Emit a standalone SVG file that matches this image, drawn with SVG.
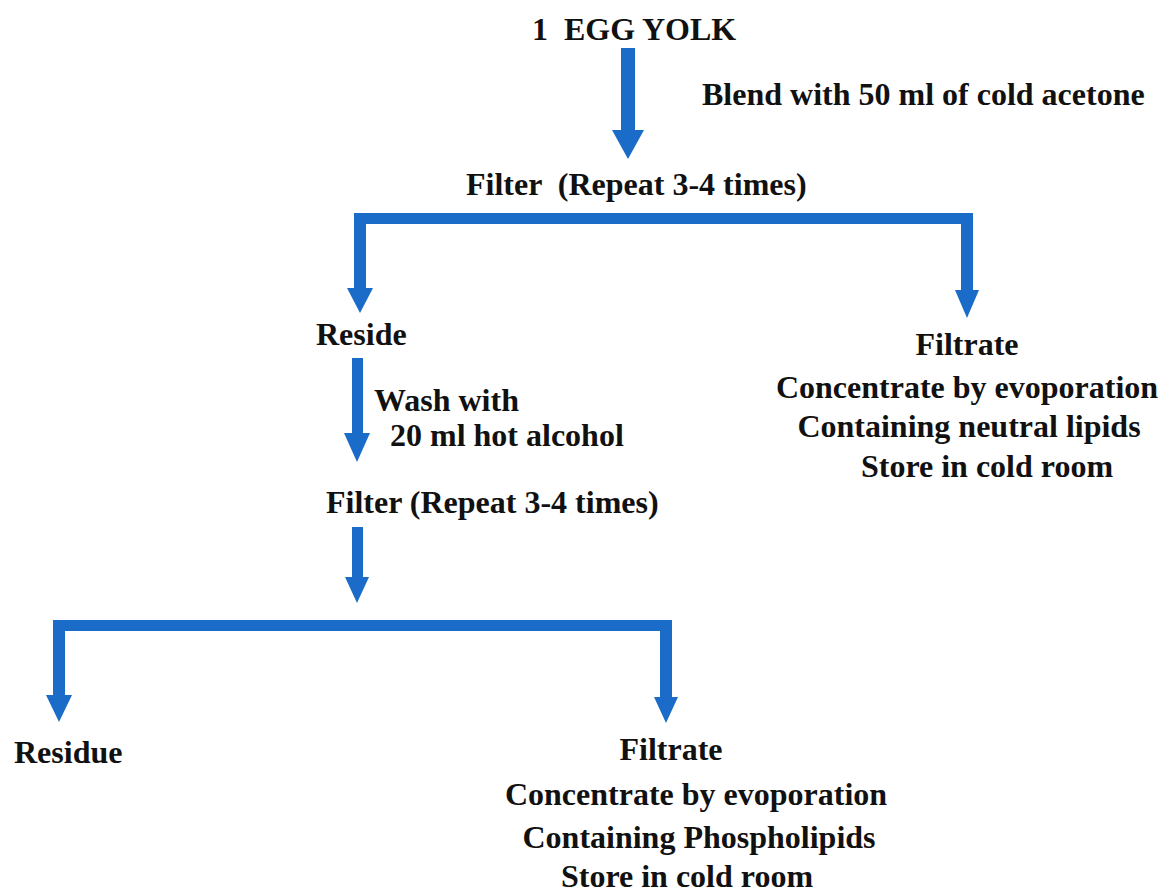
<svg xmlns="http://www.w3.org/2000/svg" width="1172" height="894" viewBox="0 0 1172 894">
<style>
  .t { font-family: "Liberation Serif", "Times New Roman", "DejaVu Serif", serif; font-weight: bold; font-size: 32px; fill: #111; }
  .a { fill: #1a6cc8; }
</style>
<rect width="1172" height="894" fill="#fff"/>
<g id="connectors">
  <path class="a" d="M621,48 H635 V130 H644 L628,159 L612,130 H621 Z"/>
  <path class="a" d="M354,213 H973 V290 H979 L967,318 L955,290 H961 V224 H366 V288 H373 L360,313 L347,288 H354 Z"/>
  <path class="a" d="M352,358 H363 V433 H370 L357,462 L344,433 H352 Z"/>
  <path class="a" d="M352,527 H363 V577 H369 L357,603 L345,577 H352 Z"/>
  <path class="a" d="M53,620 H672 V697 H678 L666,723 L654,697 H660 V631 H65 V695 H72 L59,722 L46,695 H53 Z"/>
</g>
<g id="n-eggyolk"><text class="t" x="532" y="40" xml:space="preserve">1  EGG YOLK</text></g>
<g id="l-blend"><text class="t" x="702" y="105">Blend with 50 ml of cold acetone</text></g>
<g id="n-filter1"><text class="t" x="466" y="195" xml:space="preserve">Filter  (Repeat 3-4 times)</text></g>
<g id="n-reside"><text class="t" x="316" y="345">Reside</text></g>
<g id="n-filtrate1">
  <text class="t" x="967" y="355" text-anchor="middle">Filtrate</text>
  <text class="t" x="967" y="398" text-anchor="middle">Concentrate by evoporation</text>
  <text class="t" x="969" y="437" text-anchor="middle">Containing neutral lipids</text>
  <text class="t" x="987" y="477" text-anchor="middle">Store in cold room</text>
</g>
<g id="l-wash">
  <text class="t" x="374" y="411">Wash with</text>
  <text class="t" x="390" y="446">20 ml hot alcohol</text>
</g>
<g id="n-filter2"><text class="t" x="326" y="513">Filter (Repeat 3-4 times)</text></g>
<g id="n-residue"><text class="t" x="14" y="763">Residue</text></g>
<g id="n-filtrate2">
  <text class="t" x="671" y="760" text-anchor="middle">Filtrate</text>
  <text class="t" x="696" y="805" text-anchor="middle">Concentrate by evoporation</text>
  <text class="t" x="699" y="848" text-anchor="middle">Containing Phospholipids</text>
  <text class="t" x="687" y="887" text-anchor="middle">Store in cold room</text>
</g>
</svg>
